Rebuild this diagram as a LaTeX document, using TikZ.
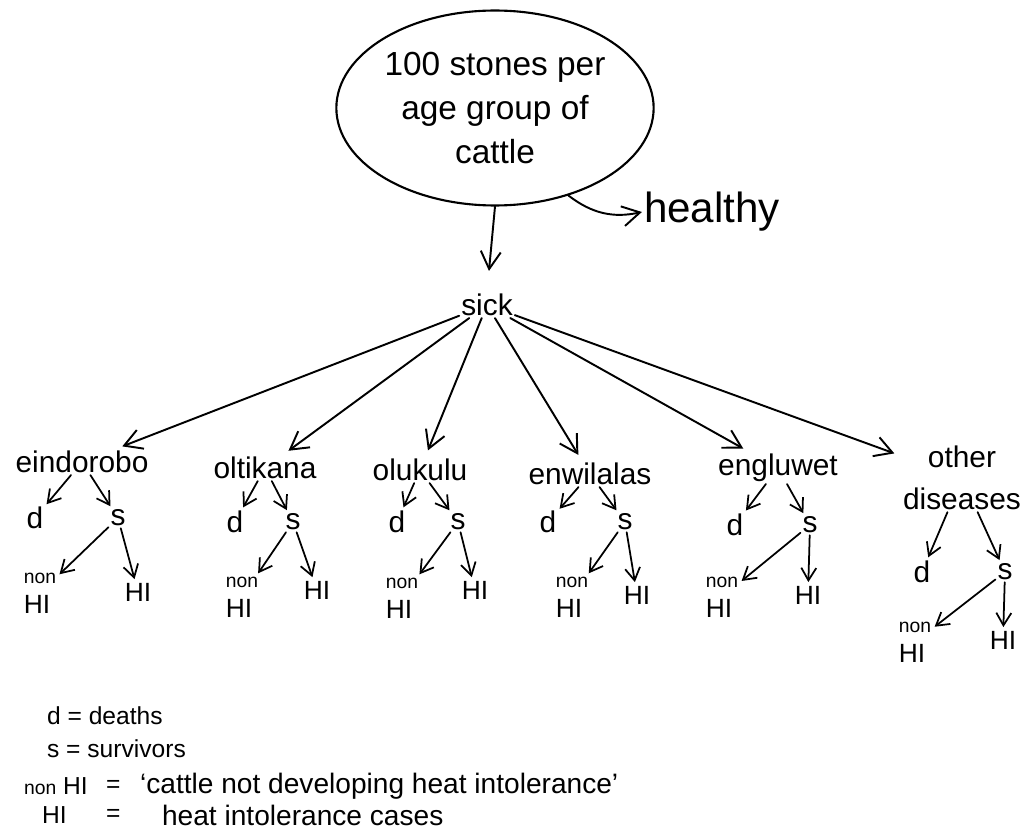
\documentclass[tikz,border=0pt]{standalone}
\usepackage{fontspec}
\setmainfont{Liberation Sans}
\usetikzlibrary{arrows.meta,positioning,shapes.geometric}

\begin{document}
\begin{tikzpicture}[x=0.02cm,y=-0.02cm,
  every node/.style={inner sep=1pt},
  lbl/.style={font=\fontsize{17}{19}\selectfont},
  ds/.style={font=\fontsize{17}{19}\selectfont},
  hi/.style={font=\fontsize{15}{16}\selectfont},
  nonhi/.style={align=left,font=\fontsize{15}{17}\selectfont},
  key/.style={anchor=west,font=\fontsize{14}{16}\selectfont},
  defn/.style={anchor=west,font=\fontsize{16}{18}\selectfont},
  big/.style={-{Straight Barb[length=3.5mm,width=4mm]},line width=1.1pt,line cap=round},
  sm/.style={-{Straight Barb[length=2.5mm,width=3mm]},line width=1pt,line cap=round,shorten >=1pt}
]
\useasboundingbox (0,0) rectangle (1029,838);

% herd and first split
\node[ellipse,draw,line width=1.2pt,minimum width=5.6cm,minimum height=3.9cm,
      align=center,font=\fontsize{19}{25}\selectfont] (herd) at (495,108)
      {100 stones per\\age group of\\cattle};
\node[font=\fontsize{24}{26}\selectfont] (healthy) at (712,212) {healthy};
\node[lbl] (sick) at (487,305) {sick};
\draw[big] (herd.-50) to[bend right=25] (healthy.west);
\draw[big,shorten >=12pt] (herd.south) -- (sick.north);

% diseases
\foreach \n/\txt/\x/\y in {endo/eindorobo/82/462, olti/oltikana/265/468,
    oluk/olukulu/420/470, enwi/enwilalas/590/474, engl/engluwet/778/468}
  \node[lbl] (\n) at (\x,\y) {\txt};
\node[lbl,align=center,font=\fontsize{17}{24}\selectfont] (other) at (962,478) {other\\diseases};
\foreach \n in {endo,olti,oluk,enwi,engl,other}
  \draw[big,shorten >=4pt] (sick) -- (\n);

% deaths / survivors, then HI split
\foreach \n/\dx/\dy/\sx/\sy/\nx/\ny/\hx/\hy in {
    endo/35/518/118/518/40/593/138/592,
    olti/235/522/293/522/242/597/317/590,
    oluk/397/522/458/522/402/598/475/590,
    enwi/548/522/625/522/572/597/637/595,
    engl/735/525/810/525/722/597/808/595,
    other/922/572/1005/572/915/642/1003/640}{
  \node[ds] (\n-d) at (\dx,\dy) {d};
  \node[ds] (\n-s) at (\sx,\sy) {s};
  \node[nonhi] (\n-non) at (\nx,\ny) {{\fontsize{11}{12}\selectfont non}\\HI};
  \node[hi] (\n-hi) at (\hx,\hy) {HI};
  \draw[sm] (\n) -- (\n-d);
  \draw[sm] (\n) -- (\n-s);
  \draw[sm] (\n-s) -- (\n-non);
  \draw[sm] (\n-s) -- (\n-hi);
}

% key
\node[key] (kd) at (45,716) {d = deaths};
\node[key] (ks) at (45,749) {s = survivors};
\node[key] (kn) at (22,786) {{\fontsize{11}{12}\selectfont non} HI};
\node[key] (kh) at (40,815) {HI};
\node[key] (kn-eq) at (104,786) {=};
\node[key] (kh-eq) at (104,815) {=};
\node[defn] (kn-txt) at (138,786) {‘cattle not developing heat intolerance’};
\node[defn] (kh-txt) at (160,815) {heat intolerance cases};
\end{tikzpicture}
\end{document}
